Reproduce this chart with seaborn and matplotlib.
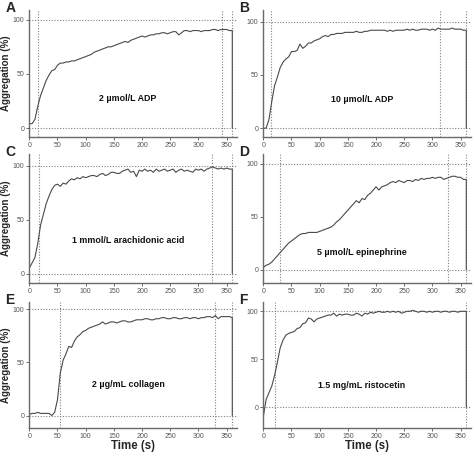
import numpy as np
import pandas as pd
import seaborn as sns
import matplotlib
matplotlib.use("Agg")
import matplotlib.pyplot as plt

# time grid of the traces (s); every trace ends with a drop back to baseline at 360 s
time_s = list(range(0, 360, 5)) + [360, 360]

adp_2 = [4, 4, 8, 20, 30, 37, 44, 49, 53, 54, 58, 60, 60, 61, 61, 62, 62, 63, 64, 65,
         66, 67, 68, 70, 71, 72, 73, 74, 75, 75, 76, 77, 78, 79, 80, 79, 81, 82, 83, 84,
         85, 84, 85, 86, 86, 87, 87, 88, 88, 87, 88, 89, 89, 86, 88, 90, 90, 89, 90, 90,
         90, 89, 90, 90, 90, 91, 91, 90, 91, 91, 91, 90, 90, 0]
adp_10 = [0, 0, 8, 25, 40, 48, 57, 62, 65, 67, 72, 72, 73, 79, 75, 77, 80, 80, 82, 83,
          84, 86, 87, 86, 88, 88, 89, 89, 89, 90, 90, 90, 90, 91, 90, 90, 91, 91, 92, 92,
          92, 92, 92, 92, 91, 92, 91, 92, 92, 92, 92, 93, 92, 93, 92, 92, 93, 93, 93, 92,
          93, 92, 94, 93, 93, 93, 93, 94, 93, 93, 93, 92, 92, 0]
arachidonic = [5, 10, 15, 28, 45, 55, 65, 72, 78, 82, 83, 81, 84, 83, 86, 88, 87, 89, 88, 90,
               89, 90, 91, 91, 90, 92, 93, 91, 92, 94, 94, 93, 93, 95, 96, 97, 94, 95, 90, 96,
               95, 97, 95, 96, 94, 97, 95, 96, 97, 95, 96, 97, 94, 96, 97, 95, 96, 95, 94, 97,
               96, 97, 95, 97, 98, 99, 98, 97, 98, 97, 98, 97, 97, 0]
epinephrine = [2, 4, 5, 7, 10, 13, 16, 19, 22, 25, 27, 29, 31, 33, 34, 34, 35, 35, 35, 35,
               36, 37, 38, 39, 40, 42, 45, 47, 50, 53, 56, 59, 62, 65, 63, 67, 66, 70, 72, 75,
               78, 75, 78, 79, 80, 82, 83, 82, 84, 83, 82, 84, 84, 83, 85, 84, 86, 85, 86, 86,
               87, 86, 87, 87, 85, 86, 87, 88, 88, 87, 87, 85, 85, 0]
collagen = [1, 2, 2, 3, 2, 2, 2, 2, 0, 3, 15, 40, 52, 58, 65, 64, 70, 74, 76, 79,
            80, 82, 83, 84, 85, 86, 88, 86, 87, 88, 88, 87, 88, 89, 89, 88, 88, 89, 90, 90,
            90, 91, 91, 90, 90, 91, 91, 92, 92, 91, 91, 92, 92, 91, 91, 92, 92, 91, 92, 92,
            91, 92, 92, 93, 93, 92, 94, 91, 93, 93, 93, 93, 92, 0]
ristocetin = [-10, 8, 15, 22, 33, 47, 62, 70, 75, 77, 78, 79, 82, 83, 87, 88, 93, 92, 89, 92,
              93, 94, 95, 96, 96, 98, 95, 97, 96, 97, 97, 96, 96, 98, 97, 95, 98, 97, 99, 98,
              99, 100, 99, 99, 100, 99, 100, 99, 100, 98, 99, 100, 100, 101, 100, 99, 100, 100, 99, 100,
              99, 100, 100, 99, 100, 100, 99, 100, 100, 99, 100, 100, 100, 0]

panel_letters = ["A", "B", "C", "D", "E", "F"]
agonists = ["2 \u00b5mol/L ADP", "10 \u00b5mol/L ADP", "1 mmol/L arachidonic acid",
            "5 \u00b5mol/L epinephrine", "2 \u00b5g/mL collagen", "1.5 mg/mL ristocetin"]
traces = [adp_2, adp_10, arachidonic, epinephrine, collagen, ristocetin]
# dotted markers: start of aggregation, end-of-run marks
marker_times = [[16, 342, 360], [13, 313, 360], [17, 324, 360],
                [29, 327, 360], [55, 329, 360], [21, 359]]
label_y = [27, 27, 31, 16, 29, 23]
y_limits = [(-8, 109), (-8, 111), (-9, 111), (-13, 109), (-12, 107), (-22, 110)]

sns.set_style("ticks")
plt.rcParams["font.family"] = ["Liberation Sans", "DejaVu Sans"]

fig = plt.figure(figsize=(4.74, 4.58), dpi=100)
W, H = 474, 458
cols = [29.3, 263.3]
rows = [(10, 136.7), (154, 283.3), (301.7, 428.3)]
ax_w = 207.5

line_col = "#4a4a4a"
dot_col = "#808080"

for i in range(6):
    r, c = divmod(i, 2)
    top, bot = rows[r]
    ax = fig.add_axes([cols[c] / W, 1 - bot / H, ax_w / W, (bot - top) / H])
    df = pd.DataFrame({"time": time_s, "agg": traces[i]})
    sns.lineplot(data=df, x="time", y="agg", ax=ax, estimator=None, sort=False,
                 color=line_col, linewidth=0.8)
    for yv in [0, 100]:
        ax.axhline(yv, color=dot_col, linestyle=(0, (1, 1.5)), linewidth=0.8, zorder=0)
    for xv in marker_times[i]:
        ax.axvline(xv, color=dot_col, linestyle=(0, (1, 1.5)), linewidth=0.8, zorder=0)
    ax.text(175, label_y[i], agonists[i], ha="center", va="center",
            fontsize=6.4, fontweight="bold", color="#111111")
    ax.set_xlim(0, 368)
    ax.set_ylim(*y_limits[i])
    ax.set_xticks(range(0, 351, 50))
    ax.set_yticks([0, 50, 100])
    ax.tick_params(labelsize=5, length=2, width=0.6, colors="#555555", pad=1.5)
    for s in ["top", "right"]:
        ax.spines[s].set_visible(False)
    for s in ["left", "bottom"]:
        ax.spines[s].set_color("#6a6a6a")
        ax.spines[s].set_linewidth(1.0)
    if c == 0:
        ax.set_ylabel("Aggregation (%)", fontsize=7, fontweight="bold")
        ax.yaxis.set_label_coords((11 - cols[c]) / ax_w, 0.5)
    else:
        ax.set_ylabel("")
    if r == 2:
        ax.set_xlabel("Time (s)", fontsize=8.3, fontweight="bold", labelpad=0)
    else:
        ax.set_xlabel("")
    fig.text((cols[c] - 24) / W, 1 - (top - 2) / H, panel_letters[i],
             fontsize=10, fontweight="bold", va="center", ha="left")

fig.savefig("out.png", dpi=100)
